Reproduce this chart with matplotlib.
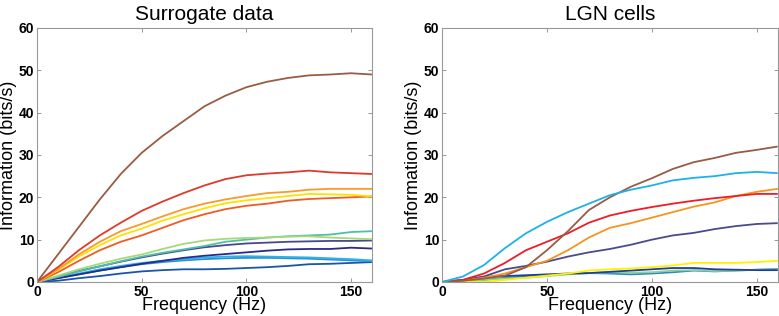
import matplotlib
matplotlib.use("Agg")
import matplotlib.pyplot as plt

freq = [0, 10, 20, 30, 40, 50, 60, 70, 80, 90, 100, 110, 120, 130, 140, 150, 160]

# Surrogate data series
sur_brown = [0, 6.5, 13, 19.5, 25.5, 30.5, 34.5, 38, 41.5, 44, 46, 47.3, 48.2, 48.8, 49, 49.3, 49]
sur_red = [0, 3.5, 7.5, 11, 14, 16.8, 19, 21, 22.8, 24.3, 25.2, 25.6, 25.9, 26.3, 25.9, 25.7, 25.5]
sur_orange = [0, 3, 6.5, 9.5, 12, 13.7, 15.5, 17.2, 18.5, 19.5, 20.3, 21, 21.3, 21.8, 22, 22, 22]
sur_yellow = [0, 2.8, 6, 8.7, 11, 12.6, 14.5, 16, 17.4, 18.6, 19.3, 19.8, 20.3, 20.8, 20.7, 20.6, 20.2]
sur_orangered = [0, 2.3, 5, 7.5, 9.5, 11, 12.8, 14.6, 16, 17.2, 18, 18.5, 19.2, 19.6, 19.8, 20, 20.2]
sur_lightgreen = [0, 1.5, 3, 4.3, 5.5, 6.5, 7.8, 9, 9.8, 10.2, 10.4, 10.5, 10.7, 10.8, 10.5, 10.3, 10.1]
sur_teal = [0, 1.2, 2.5, 3.7, 4.9, 6, 6.9, 7.7, 8.5, 9.5, 10, 10.5, 10.8, 11, 11.2, 11.8, 12]
sur_slate = [0, 1.2, 2.6, 3.7, 4.8, 5.8, 6.7, 7.5, 8.2, 8.7, 9.1, 9.3, 9.5, 9.6, 9.7, 9.7, 9.8]
sur_navy = [0, 0.9, 1.8, 2.7, 3.5, 4.3, 5, 5.7, 6.2, 6.6, 7, 7.4, 7.7, 7.8, 7.8, 8.1, 7.9]
sur_lightblue = [0, 1, 2, 3, 3.8, 4.5, 5, 5.4, 5.8, 6, 6.1, 6, 5.9, 5.8, 5.6, 5.4, 5.1]
sur_blue = [0, 0.9, 1.8, 2.7, 3.5, 4.2, 4.7, 5.1, 5.4, 5.6, 5.7, 5.7, 5.6, 5.5, 5.3, 5.1, 4.9]
sur_darkblue = [0, 0.3, 0.9, 1.4, 2, 2.5, 2.8, 3, 3, 3.1, 3.3, 3.5, 3.8, 4.2, 4.3, 4.5, 4.7]

# LGN cells series
lgn_cyan = [0, 1.3, 4, 8, 11.5, 14.2, 16.5, 18.5, 20.5, 21.8, 22.8, 24, 24.6, 25, 25.7, 26, 25.7]
lgn_brown = [0, 0.3, 0.8, 1.5, 3.5, 7.5, 12, 17, 20, 22.5, 24.5, 26.7, 28.3, 29.3, 30.5, 31.2, 32]
lgn_red = [0, 0.5, 2, 4.5, 7.5, 9.5, 11.5, 14, 15.7, 16.8, 17.7, 18.5, 19.2, 19.8, 20.3, 20.8, 20.8]
lgn_orange = [0, 0.3, 1, 2, 3.5, 5, 7.5, 10.5, 12.8, 13.9, 15.2, 16.5, 17.8, 18.8, 20.3, 21.3, 22]
lgn_slate = [0, 0.4, 1.3, 3, 3.8, 4.8, 6, 7, 7.8, 8.8, 10, 11, 11.6, 12.5, 13.2, 13.7, 13.9]
lgn_yellow = [0, 0, 0, 0.5, 1, 1.5, 2, 2.7, 3, 3.2, 3.5, 3.9, 4.5, 4.5, 4.5, 4.7, 5]
lgn_darkblue = [0, 0.5, 1.2, 1.4, 1.6, 1.8, 2, 2.1, 2.4, 2.7, 3, 3.3, 3.3, 3, 2.9, 2.8, 2.8]
lgn_green = [0, 0.2, 0.5, 0.8, 1, 1.4, 1.8, 2.1, 2.3, 2.2, 2.3, 2.7, 2.8, 2.6, 2.7, 2.9, 3]
lgn_blue = [0, 0, 0.5, 1, 1.3, 1.6, 1.9, 2.1, 2, 1.8, 2, 2.3, 2.7, 2.5, 2.7, 2.9, 3.1]

sur_series = [
    (sur_darkblue, "#1a55a8"), (sur_blue, "#2a8fd6"), (sur_lightblue, "#2bb3e8"),
    (sur_navy, "#2a2a8e"), (sur_slate, "#48488f"), (sur_teal, "#50bfa8"),
    (sur_lightgreen, "#a8d87a"), (sur_orangered, "#f05a23"), (sur_yellow, "#ffe000"),
    (sur_orange, "#f99a2a"), (sur_red, "#dd3a2a"), (sur_brown, "#9b5b43"),
]
lgn_series = [
    (lgn_blue, "#2e86c8"), (lgn_green, "#8fd18f"), (lgn_darkblue, "#1d3f9a"),
    (lgn_yellow, "#fff200"), (lgn_slate, "#4a4a8c"), (lgn_orange, "#f7941d"),
    (lgn_red, "#ee1c25"), (lgn_brown, "#9a5b44"), (lgn_cyan, "#1cb2e6"),
]

plt.rcParams['font.family'] = ['Liberation Sans', 'DejaVu Sans']
fig = plt.figure(figsize=(7.79, 3.16), dpi=100)
ax1 = fig.add_axes([0.0475, 0.1076, 0.430, 0.804])
ax2 = fig.add_axes([0.5674, 0.1076, 0.431, 0.804])

for ax, series, title in [(ax1, sur_series, "Surrogate data"), (ax2, lgn_series, "LGN cells")]:
    for vals, col in series:
        ax.plot(freq, vals, color=col, lw=1.3, solid_capstyle='butt')
    ax.set_xlim(0, 160)
    ax.set_ylim(0, 60)
    ax.set_xticks([0, 50, 100, 150])
    ax.set_yticks([0, 10, 20, 30, 40, 50, 60])
    ax.tick_params(direction='in', length=3, width=0.6, color='#888888',
                   top=True, right=True, labelsize=10, pad=2)
    for lab in ax.get_xticklabels() + ax.get_yticklabels():
        lab.set_fontweight('bold')
    for sp in ax.spines.values():
        sp.set_color('#999999')
        sp.set_linewidth(0.8)
    ax.set_xlabel("Frequency (Hz)", fontsize=13, labelpad=-1)
    ax.set_ylabel("Information (bits/s)", fontsize=13, labelpad=1)
    ax.set_title(title, fontsize=15, pad=6)

fig.savefig("out.png", dpi=100)
